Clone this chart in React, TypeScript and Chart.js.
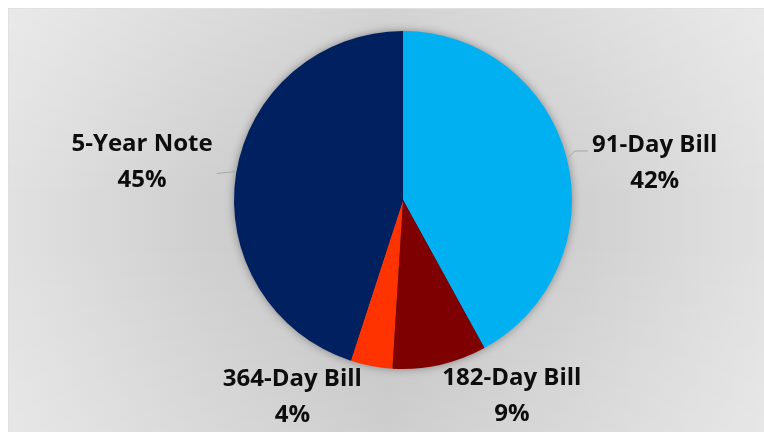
import React, { useEffect, useRef } from "react";
import { Chart, registerables } from "chart.js";

Chart.register(...registerables);

const categories = ["91-Day Bill", "182-Day Bill", "364-Day Bill", "5-Year Note"];
const shares = [42, 9, 4, 45];
const sliceColors = ["#00B0F0", "#7F0000", "#FF3300", "#002060"];

// layout of the outside labels, relative to the point on the rim at each slice's mid-angle
const labelOffsets = [
  [88, 5],
  [72, 31],
  [-79, 31],
  [-94, -11],
];
const leaderLines = [true, false, false, true];

const labelPlugin = {
  id: "outsideLabels",
  beforeDatasetsDraw(chart: any) {
    const meta = chart.getDatasetMeta(0);
    const arc = meta.data[0];
    if (!arc) return;
    const { x, y, outerRadius } = arc.getProps(["x", "y", "outerRadius"], true);
    const ctx = chart.ctx;
    ctx.save();
    ctx.shadowColor = "rgba(0,0,0,0.45)";
    ctx.shadowBlur = 10;
    ctx.shadowOffsetX = 0;
    ctx.shadowOffsetY = 0;
    ctx.fillStyle = "#002060";
    ctx.beginPath();
    ctx.arc(x, y, outerRadius - 1, 0, Math.PI * 2);
    ctx.fill();
    ctx.restore();
  },
  afterDraw(chart: any) {
    const ctx = chart.ctx;
    const meta = chart.getDatasetMeta(0);
    ctx.save();
    meta.data.forEach((el: any, i: number) => {
      const { x, y, startAngle, endAngle, outerRadius } = el.getProps(
        ["x", "y", "startAngle", "endAngle", "outerRadius"],
        true
      );
      const mid = (startAngle + endAngle) / 2;
      const ex = x + Math.cos(mid) * outerRadius;
      const ey = y + Math.sin(mid) * outerRadius;
      const cx = ex + labelOffsets[i][0];
      const cy = ey + labelOffsets[i][1];
      const name = categories[i];
      const pct = `${shares[i]}%`;
      ctx.font = "bold 24px 'Open Sans'";
      const w = ctx.measureText(name).width;
      if (leaderLines[i]) {
        ctx.strokeStyle = "#a6a6a6";
        ctx.lineWidth = 1;
        ctx.beginPath();
        if (cx > x) {
          const lx = cx - w / 2 - 4;
          ctx.moveTo(ex + 1, ey);
          ctx.lineTo(ex + 8, cy - 12);
          ctx.lineTo(lx, cy - 12);
        } else {
          const lx = cx + w / 2 + 4;
          ctx.moveTo(ex - 1, ey - 2);
          ctx.lineTo(lx, ey);
        }
        ctx.stroke();
      }
      ctx.fillStyle = "#0d0d0d";
      ctx.textAlign = "center";
      ctx.textBaseline = "middle";
      ctx.fillText(name, cx, cy - 18);
      ctx.fillText(pct, cx, cy + 18);
    });
    ctx.restore();
  },
};

export default function App() {
  const ref = useRef<HTMLCanvasElement | null>(null);
  useEffect(() => {
    if (!ref.current) return;
    const chart = new Chart(ref.current, {
      type: "pie",
      data: {
        labels: categories,
        datasets: [
          {
            data: shares,
            backgroundColor: sliceColors,
            borderWidth: 0,
          },
        ],
      },
      options: {
        animation: false,
        responsive: false,
        layout: { padding: { top: 23, bottom: 63, left: 226, right: 192 } },
        plugins: {
          legend: { display: false },
          tooltip: { enabled: false },
        },
      },
      plugins: [labelPlugin],
    });
    return () => chart.destroy();
  }, []);
  return (
    <div
      style={{
        position: "fixed",
        left: 8,
        top: 8,
        width: 756,
        height: 424,
        background:
          "linear-gradient(180deg, rgba(255,255,255,0.28) 0%, rgba(255,255,255,0) 45%, rgba(255,255,255,0) 55%, rgba(255,255,255,0.2) 100%), linear-gradient(90deg, #e1e1e1 0%, #d0d0d0 25%, #c2c2c2 50%, #d0d0d0 75%, #e1e1e1 100%)",
        borderTop: "1px solid #e0e0e0",
        borderLeft: "1px solid #e0e0e0",
        boxSizing: "border-box",
      }}
    >
      <canvas ref={ref} width={756} height={424} style={{ display: "block", position: "absolute", left: -1, top: -1 }} />
    </div>
  );
}
